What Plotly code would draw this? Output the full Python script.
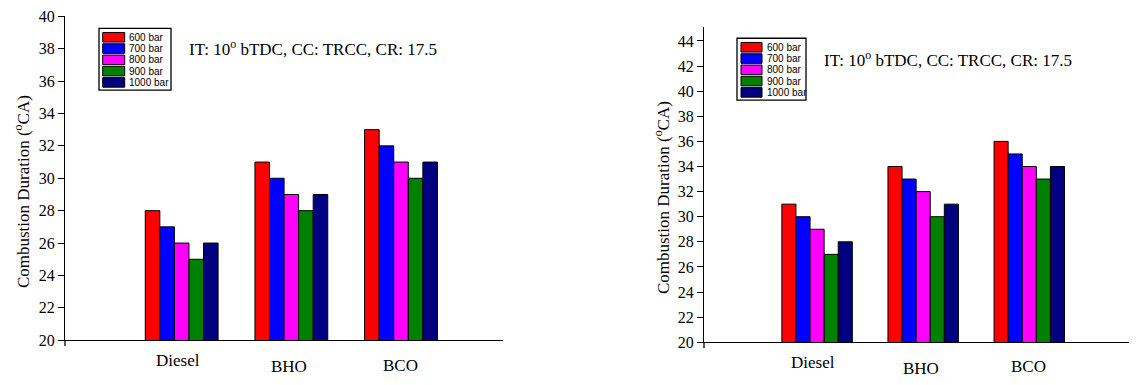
import plotly.graph_objects as go

# ---------------- data ----------------
categories = ["Diesel", "BHO", "BCO"]
series_names = ["600 bar", "700 bar", "800 bar", "900 bar", "1000 bar"]

left_600 = [28, 31, 33]
left_700 = [27, 30, 32]
left_800 = [26, 29, 31]
left_900 = [25, 28, 30]
left_1000 = [26, 29, 31]

right_600 = [31, 34, 36]
right_700 = [30, 33, 35]
right_800 = [29, 32, 34]
right_900 = [27, 30, 33]
right_1000 = [28, 31, 34]

y_title = "Combustion Duration (<sup>o</sup>CA)"
condition_text = "IT: 10<sup>o</sup> bTDC, CC: TRCC, CR: 17.5"

# ---------------- style ----------------
W, H = 1139, 385
colors = ["#FF0000", "#0000FF", "#FF00FF", "#008000", "#000080"]
SERIF = "Liberation Serif, Times New Roman, serif"
SANS = "Liberation Sans, Arial, sans-serif"

# empirical compensation of vertical placement in the photographed page
Y_OFF, Y_SPAN = 7.7, 368.4


def px(x):
    return x / W


def py(y):
    return 1 - (y - Y_OFF) / Y_SPAN


left_vals = [left_600, left_700, left_800, left_900, left_1000]
right_vals = [right_600, right_700, right_800, right_900, right_1000]

fig = go.Figure()
x_idx = list(range(len(categories)))
for i, name in enumerate(series_names):
    fig.add_trace(go.Bar(x=x_idx, y=left_vals[i], name=name, xaxis="x", yaxis="y",
                         marker=dict(color=colors[i], line=dict(color="black", width=1)),
                         showlegend=False))
    fig.add_trace(go.Bar(x=x_idx, y=right_vals[i], name=name, xaxis="x2", yaxis="y2",
                         marker=dict(color=colors[i], line=dict(color="black", width=1)),
                         showlegend=False))

axis_common = dict(showline=True, linecolor="black", linewidth=1.3, showgrid=False,
                   zeroline=False)

fig.update_layout(
    width=W, height=H,
    margin=dict(l=0, r=0, t=0, b=0),
    paper_bgcolor="white", plot_bgcolor="white",
    barmode="group", bargap=0.336, bargroupgap=0,
    xaxis=dict(domain=[px(65), px(503)], range=[-1.064, 2.93], anchor="y",
               showticklabels=False, ticks="", **axis_common),
    yaxis=dict(domain=[py(340.3), py(16)], range=[20, 40], anchor="x",
               dtick=2, tick0=20, ticks="outside", ticklen=6, tickwidth=1.3,
               tickcolor="black", ticklabeloverflow="allow",
               tickfont=dict(family=SERIF, size=16, color="black"), **axis_common),
    xaxis2=dict(domain=[px(704), px(1129)], range=[-1.066, 2.94], anchor="y2",
                showticklabels=False, ticks="", **axis_common),
    yaxis2=dict(domain=[py(342.3), py(27)], range=[20, 45.09], anchor="x2",
                dtick=2, tick0=20, ticks="outside", ticklen=6, tickwidth=1.3,
                tickcolor="black", ticklabeloverflow="allow",
                tickfont=dict(family=SERIF, size=16, color="black"), **axis_common),
)

annotations = []
shapes = []

# y-axis titles
for xc, yc in [(22, 192), (662, 198)]:
    annotations.append(dict(text=y_title, x=px(xc), y=py(yc), xref="paper", yref="paper",
                            textangle=-90, showarrow=False, xanchor="center", yanchor="middle",
                            font=dict(family=SERIF, size=17, color="black")))

# condition text
for xl, yc in [(187, 48), (822, 59)]:
    annotations.append(dict(text=condition_text, x=px(xl), y=py(yc), xref="paper", yref="paper",
                            showarrow=False, xanchor="left", yanchor="middle",
                            font=dict(family=SERIF, size=17, color="black")))

# category labels (slightly staggered as in the original)
label_y_left = [361, 367, 366]
label_y_right = [363, 369, 367]
label_dx = [-4, -2, -1]
for j, cat in enumerate(categories):
    annotations.append(dict(text=cat, x=j, y=py(label_y_left[j]), xref="x", yref="paper",
                            xshift=label_dx[j], showarrow=False, xanchor="center", yanchor="middle",
                            font=dict(family=SERIF, size=17, color="black")))
    annotations.append(dict(text=cat, x=j, y=py(label_y_right[j]), xref="x2", yref="paper",
                            xshift=label_dx[j], showarrow=False, xanchor="center", yanchor="middle",
                            font=dict(family=SERIF, size=17, color="black")))

# y-axis line extending slightly below x-axis
for xa, y0, y1 in [(65, 340.3, 346), (704, 342.3, 348)]:
    shapes.append(dict(type="line", xref="paper", yref="paper", x0=px(xa), x1=px(xa),
                       y0=py(y0), y1=py(y1), line=dict(color="black", width=1.3)))

# custom legends
legend_boxes = [
    dict(box=(99, 28, 171, 90), sw_x=(102.7, 124.7), text_x=127, row0=37.0),
    dict(box=(737, 38, 806, 100), sw_x=(741, 762), text_x=764.5, row0=47.0),
]
row_h = 11.3
for lg in legend_boxes:
    bx0, by0, bx1, by1 = lg["box"]
    shapes.append(dict(type="rect", xref="paper", yref="paper", x0=px(bx0), x1=px(bx1),
                       y0=py(by1), y1=py(by0), line=dict(color="black", width=1.3),
                       fillcolor="white", layer="above"))
    for i, name in enumerate(series_names):
        yc = lg["row0"] + i * row_h
        shapes.append(dict(type="rect", xref="paper", yref="paper",
                           x0=px(lg["sw_x"][0]), x1=px(lg["sw_x"][1]),
                           y0=py(yc + 4.8), y1=py(yc - 4.8),
                           line=dict(color="black", width=1), fillcolor=colors[i], layer="above"))
        annotations.append(dict(text=name, x=px(lg["text_x"]), y=py(yc), xref="paper", yref="paper",
                                showarrow=False, xanchor="left", yanchor="middle",
                                font=dict(family=SANS, size=10, color="black")))

fig.update_layout(annotations=annotations, shapes=shapes)
fig.write_html("out.html", config={"displayModeBar": False},
               post_script="document.body.style.margin='0';document.body.style.overflow='hidden';")
